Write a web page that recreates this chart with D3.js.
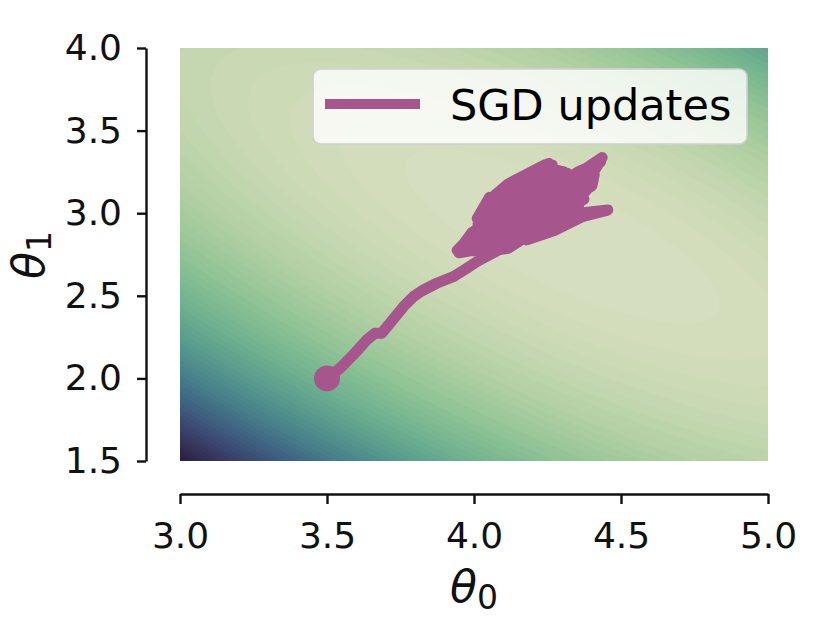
<!DOCTYPE html>
<html>
<head>
<meta charset="utf-8">
<script src="https://cdn.jsdelivr.net/npm/d3@7"></script>
<style>
  body { margin: 0; background: #fff; }
  svg { display: block; font-family: "DejaVu Sans", sans-serif; }
</style>
</head>
<body>
<svg id="chart" width="830" height="622"></svg>
<script>
// axis ticks
var theta0Ticks = [3.0, 3.5, 4.0, 4.5, 5.0]
var theta1Ticks = [1.5, 2.0, 2.5, 3.0, 3.5, 4.0]

// loss surface: quadratic bowl (centre + coefficients)
var lossCenter0 = 4.3
var lossCenter1 = 2.86
var lossA = 0.56, lossB = 0.44, lossC = 0.578

// SGD trajectory (theta0, theta1)
var sgdTheta0 = [3.500, 3.544, 3.589, 3.635, 3.663, 3.686, 3.714, 3.760, 3.794, 3.822, 3.873, 3.930, 3.975,
    4.009, 4.081, 4.242, 4.356, 4.355, 4.180, 4.273, 4.371, 4.455, 4.372, 4.298, 4.403, 4.241, 4.019,
    3.957, 4.143, 4.413, 4.436, 4.272, 3.943, 3.987, 4.174, 4.317, 4.286, 4.132, 4.014, 4.041, 4.176,
    4.266, 4.241, 4.117, 4.072, 4.155, 4.239,
    4.374, 4.117, 4.043, 4.401, 4.409, 3.992, 3.949, 4.430, 4.354, 3.963, 3.993, 4.305, 4.270, 4.026,
    4.055, 4.255, 4.041, 4.053, 4.011]
var sgdTheta1 = [2.000, 2.061, 2.142, 2.232, 2.273, 2.273, 2.334, 2.434, 2.495, 2.529, 2.576, 2.616, 2.666,
    2.706, 2.775, 2.946, 3.078, 3.026, 2.839, 2.895, 2.981, 3.019, 3.003, 2.960, 3.183, 3.004, 2.768,
    2.783, 2.940, 3.267, 3.337, 3.141, 2.775, 2.854, 3.077, 3.242, 3.258, 3.080, 2.936, 3.018, 3.181,
    3.292, 3.293, 3.178, 3.111, 3.185, 3.232,
    3.085, 2.788, 2.768, 3.166, 3.233, 2.774, 2.760, 3.309, 3.250, 2.811, 2.883, 3.251, 3.260, 2.971,
    3.070, 3.301, 3.053, 3.097, 2.968]
var startTheta = [3.5, 2.0]

var pathColor = "#a6558d"
var ink = "#111111"

var svg = d3.select("#chart")
var X = d3.scaleLinear().domain([3, 5]).range([180, 768])
var Y = d3.scaleLinear().domain([1.5, 4]).range([461, 48])

// seaborn cubehelix_palette(start=.5, rot=-.75) as colormap
function cubehelix(t) {
    var x = 0.85 - 0.7 * t
    var a = 0.8 * x * (1 - x) / 2
    var phi = 2 * Math.PI * (0.5 / 3 - 0.75 * x)
    var c = Math.cos(phi), s = Math.sin(phi)
    var r = x + a * (-0.14861 * c + 1.78277 * s)
    var g = x + a * (-0.29227 * c - 0.90649 * s)
    var b = x + a * (1.97294 * c)
    var cl = function (v) { return Math.max(0, Math.min(1, v)) * 255 }
    return d3.rgb(cl(r), cl(g), cl(b)).toString()
}

function loss(t0, t1) {
    var d0 = t0 - lossCenter0, d1 = t1 - lossCenter1
    return lossA * d0 * d0 + 2 * lossB * d0 * d1 + lossC * d1 * d1
}

// grid for contours
var nx = 240, ny = 200
var grid = new Array(nx * ny)
for (var j = 0; j < ny; j++) {
    for (var i = 0; i < nx; i++) {
        var t0 = 3 + (i + 0.5) * 2 / nx
        var t1 = 4 - (j + 0.5) * 2.5 / ny
        grid[j * nx + i] = loss(t0, t1)
    }
}
var lmin = d3.min(grid), lmax = d3.max(grid)
var nLevels = 55
var levels = d3.range(nLevels).map(function (k) { return lmin + (lmax - lmin) * k / nLevels })
var colorT = d3.scalePow().exponent(1.2).domain([lmin, lmax]).range([0, 1])

var contours = d3.contours().size([nx, ny]).thresholds(levels)(grid)
var proj = d3.geoTransform({
    point: function (x, y) { this.stream.point(180 + x * 588 / nx, 48 + y * 413 / ny) }
})
var geo = d3.geoPath(proj)

svg.append("g")
    .selectAll("path")
    .data(contours)
    .join("path")
    .attr("d", geo)
    .attr("fill", function (d) {
        var mid = d.value + (lmax - lmin) / nLevels / 2
        return cubehelix(colorT(Math.min(mid, lmax)))
    })
    .attr("stroke", "none")

// SGD path
var line = d3.line()
    .x(function (d) { return X(d[0]) })
    .y(function (d) { return Y(d[1]) })
var pts = sgdTheta0.map(function (v, k) { return [v, sgdTheta1[k]] })
svg.append("path")
    .datum(pts)
    .attr("d", line)
    .attr("fill", "none")
    .attr("stroke", pathColor)
    .attr("stroke-width", 11)
    .attr("stroke-linejoin", "round")
    .attr("stroke-linecap", "round")

svg.append("circle")
    .attr("cx", X(startTheta[0]))
    .attr("cy", Y(startTheta[1]))
    .attr("r", 13)
    .attr("fill", pathColor)

// axes (offset spines)
var yAxis = svg.append("g")
    .attr("transform", "translate(146,0)")
    .call(d3.axisLeft(Y).tickValues(theta1Ticks).tickFormat(d3.format(".1f"))
        .tickSize(9).tickSizeOuter(0).tickPadding(15))
var xAxis = svg.append("g")
    .attr("transform", "translate(0,494)")
    .call(d3.axisBottom(X).tickValues(theta0Ticks).tickFormat(d3.format(".1f"))
        .tickSize(10).tickSizeOuter(0).tickPadding(18))

;[xAxis, yAxis].forEach(function (ax) {
    ax.select(".domain").attr("stroke", ink).attr("stroke-width", 2.4)
    ax.selectAll(".tick line").attr("stroke", ink).attr("stroke-width", 2.4)
    ax.selectAll(".tick text").attr("fill", ink)
        .style("font-size", "36px").style("font-family", "DejaVu Sans")
})

// axis labels
var xl = svg.append("text")
    .attr("x", 474).attr("y", 602)
    .attr("text-anchor", "middle")
    .attr("fill", ink)
    .style("font-size", "44px")
xl.append("tspan").text("θ").style("font-style", "italic")
xl.append("tspan").text("0").attr("dy", 7).style("font-size", "33px")

var yl = svg.append("text")
    .attr("transform", "translate(44,255) rotate(-90)")
    .attr("text-anchor", "middle")
    .attr("fill", ink)
    .style("font-size", "44px")
yl.append("tspan").text("θ").style("font-style", "italic")
yl.append("tspan").text("1").attr("dy", 7).style("font-size", "33px")

// legend
var lg = svg.append("g")
lg.append("rect")
    .attr("x", 313).attr("y", 69).attr("width", 434).attr("height", 75)
    .attr("rx", 8)
    .attr("fill", "#ffffff").attr("fill-opacity", 0.8)
    .attr("stroke", "#cfcfcf").attr("stroke-width", 1.5)
lg.append("line")
    .attr("x1", 325).attr("x2", 420).attr("y1", 104).attr("y2", 104)
    .attr("stroke", pathColor).attr("stroke-width", 10)
lg.append("text")
    .attr("x", 450).attr("y", 120)
    .attr("fill", "#000")
    .style("font-size", "43px")
    .text("SGD updates")
</script>
</body>
</html>
